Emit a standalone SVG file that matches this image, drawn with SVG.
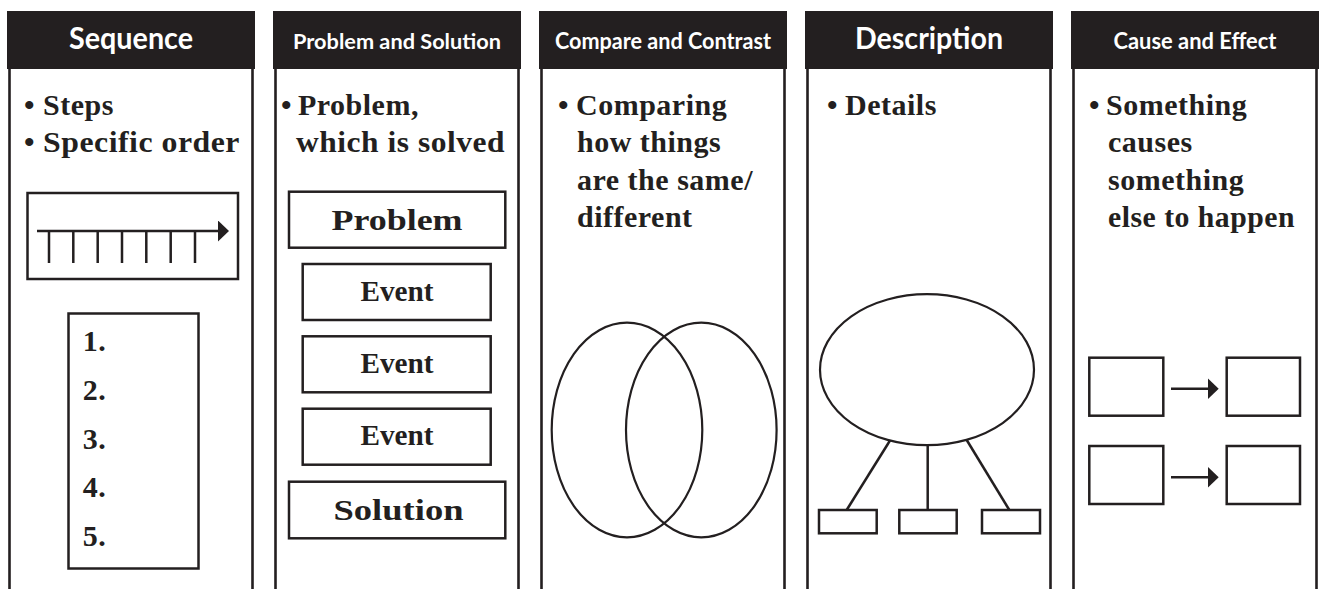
<svg xmlns="http://www.w3.org/2000/svg" width="1320" height="589" viewBox="0 0 1320 589">
<style>
.hdr{fill:#231f20}
.side{fill:none;stroke:#231f20;stroke-width:2.6}
.htxt{font-family:Lato,"Liberation Sans",sans-serif;font-weight:700;fill:#ffffff;text-anchor:middle}
.bt{font-family:"Liberation Serif","DejaVu Serif",serif;font-weight:700;fill:#231f20;font-size:30px;letter-spacing:0.5px}
.mid{text-anchor:middle;letter-spacing:0}
.ln{fill:none;stroke:#231f20;stroke-width:2.5}
.th{fill:none;stroke:#231f20;stroke-width:2.2}
</style>
<defs>
<marker id="arr" markerUnits="userSpaceOnUse" viewBox="0 0 11 21" markerWidth="11" markerHeight="21" refX="6" refY="10.5" orient="auto">
<path d="M0,0 L11,10.5 L0,21 Z" fill="#231f20"/>
</marker>
</defs>
<rect x="0" y="0" width="1320" height="589" fill="#ffffff"/>

<g id="sequence">
<rect class="hdr" x="7" y="11" width="248" height="58"/>
<path class="side" d="M9.5 69 V592 M252.5 69 V592"/>
<text class="htxt" x="131" y="48.5" font-size="30" textLength="124" lengthAdjust="spacingAndGlyphs">Sequence</text>
<text class="bt" y="115"><tspan x="24">•</tspan><tspan x="43">Steps</tspan></text>
<text class="bt" y="152"><tspan x="24">•</tspan><tspan x="43" textLength="197" lengthAdjust="spacingAndGlyphs">Specific order</tspan></text>
<rect class="ln" x="27.5" y="193" width="210.5" height="86"/>
<path class="ln" d="M37 231 H224" marker-end="url(#arr)"/>
<path class="ln" d="M49 231 V263 M73.3 231 V263 M97.7 231 V263 M122 231 V263 M146.3 231 V263 M170.7 231 V263 M195 231 V263"/>
<rect class="ln" x="68.5" y="313.5" width="130" height="255"/>
<text class="bt" font-size="25" x="82.7" y="351">1.</text>
<text class="bt" font-size="25" x="82.7" y="400">2.</text>
<text class="bt" font-size="25" x="82.7" y="448.5">3.</text>
<text class="bt" font-size="25" x="82.7" y="497">4.</text>
<text class="bt" font-size="25" x="82.7" y="546">5.</text>
</g>

<g id="problem-solution">
<rect class="hdr" x="273" y="11" width="248" height="58"/>
<path class="side" d="M275.5 69 V592 M518.5 69 V592"/>
<text class="htxt" x="397" y="48.5" font-size="21" textLength="208" lengthAdjust="spacingAndGlyphs">Problem and Solution</text>
<text class="bt" y="115"><tspan x="281">•</tspan><tspan x="298">Problem,</tspan></text>
<text class="bt" x="296" y="152" textLength="209" lengthAdjust="spacingAndGlyphs">which is solved</text>
<g id="problem-box">
<rect class="ln" x="289" y="191.7" width="216.3" height="56"/>
<text class="bt mid" font-size="34" x="397" y="230" textLength="131" lengthAdjust="spacingAndGlyphs">Problem</text>
</g>
<g id="event-1">
<rect class="ln" x="302.7" y="264" width="188" height="56"/>
<text class="bt mid" font-size="29" x="397" y="300.7" textLength="73" lengthAdjust="spacingAndGlyphs">Event</text>
</g>
<g id="event-2">
<rect class="ln" x="302.7" y="336.3" width="188" height="56"/>
<text class="bt mid" font-size="29" x="397" y="373" textLength="73" lengthAdjust="spacingAndGlyphs">Event</text>
</g>
<g id="event-3">
<rect class="ln" x="302.7" y="408.7" width="188" height="56"/>
<text class="bt mid" font-size="29" x="397" y="445.4" textLength="73" lengthAdjust="spacingAndGlyphs">Event</text>
</g>
<g id="solution-box">
<rect class="ln" x="289" y="481.7" width="216.3" height="56.6"/>
<text class="bt mid" font-size="35" x="398.5" y="520" textLength="130" lengthAdjust="spacingAndGlyphs">Solution</text>
</g>
</g>

<g id="compare-contrast">
<rect class="hdr" x="539" y="11" width="248" height="58"/>
<path class="side" d="M541.5 69 V592 M784.5 69 V592"/>
<text class="htxt" x="663" y="48.5" font-size="22" textLength="216" lengthAdjust="spacingAndGlyphs">Compare and Contrast</text>
<text class="bt" y="115"><tspan x="558">•</tspan><tspan x="576">Comparing</tspan></text>
<text class="bt" x="577" y="152">how things</text>
<text class="bt" x="577" y="190" textLength="176" lengthAdjust="spacingAndGlyphs">are the same/</text>
<text class="bt" x="577" y="227">different</text>
<ellipse class="th" cx="627" cy="430" rx="75.3" ry="107.3"/>
<ellipse class="th" cx="701.3" cy="430" rx="75.3" ry="107.3"/>
</g>

<g id="description">
<rect class="hdr" x="805" y="11" width="248" height="58"/>
<path class="side" d="M807.5 69 V592 M1050.5 69 V592"/>
<text class="htxt" x="929" y="48.5" font-size="30" textLength="148" lengthAdjust="spacingAndGlyphs">Description</text>
<text class="bt" y="115"><tspan x="827">•</tspan><tspan x="845">Details</tspan></text>
<ellipse id="main-idea" class="th" cx="927" cy="369.7" rx="107" ry="75.5"/>
<rect id="detail-1" class="ln" x="819" y="510" width="57.7" height="23.3"/>
<rect id="detail-2" class="ln" x="899.3" y="510" width="57.4" height="23.3"/>
<rect id="detail-3" class="ln" x="982" y="510" width="58" height="23.3"/>
</g>

<g id="cause-effect">
<rect class="hdr" x="1071" y="11" width="248" height="58"/>
<path class="side" d="M1073.5 69 V592 M1316.5 69 V592"/>
<text class="htxt" x="1195" y="48.5" font-size="22" textLength="163" lengthAdjust="spacingAndGlyphs">Cause and Effect</text>
<text class="bt" y="115"><tspan x="1089">•</tspan><tspan x="1106">Something</tspan></text>
<text class="bt" x="1108" y="152">causes</text>
<text class="bt" x="1108" y="190">something</text>
<text class="bt" x="1108" y="227" textLength="187" lengthAdjust="spacingAndGlyphs">else to happen</text>
<rect id="cause-1" class="ln" x="1089.3" y="357.7" width="74" height="58"/>
<rect id="effect-1" class="ln" x="1226.7" y="357.7" width="73.3" height="58"/>
<rect id="cause-2" class="ln" x="1089.3" y="446" width="74" height="58"/>
<rect id="effect-2" class="ln" x="1226.7" y="446" width="73.3" height="58"/>
</g>

<g id="connectors">
<path class="ln" d="M890 440.5 L846.7 510"/>
<path class="ln" d="M927.7 445.2 V510"/>
<path class="ln" d="M966.7 440 L1009.3 510"/>
<path class="ln" d="M1171 388.7 H1213.7" marker-end="url(#arr)"/>
<path class="ln" d="M1171 477.3 H1213.7" marker-end="url(#arr)"/>
</g>
</svg>
